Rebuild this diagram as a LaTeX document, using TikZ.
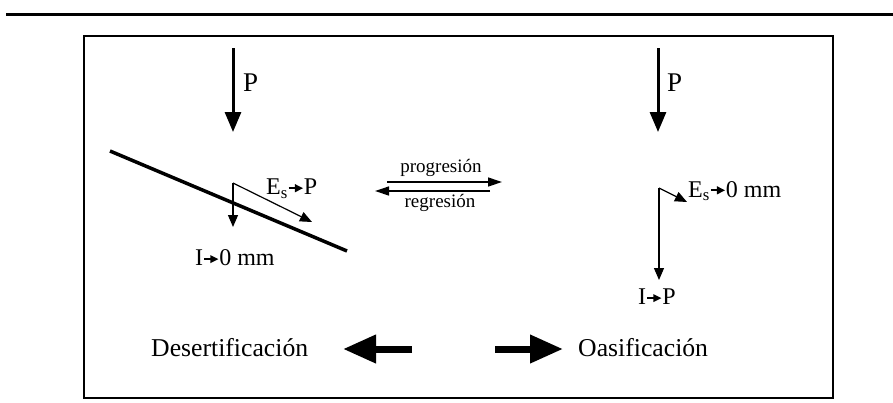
\documentclass[tikz,border=0pt]{standalone}
\usepackage{fontspec}
\setmainfont{Liberation Serif}
\usetikzlibrary{arrows.meta}
\newcommand{\tarr}{\tikz[baseline=-0.28em]\draw[line width=0.07em,-{Triangle[length=0.34em,width=0.32em]}] (0pt,0pt) -- (0.6em,0pt);}
\begin{document}
\begin{tikzpicture}[x=1pt,y=-1pt,
  bigp/.style={inner sep=0pt,anchor=west,font=\fontsize{27}{30}\selectfont},
  lab/.style={inner sep=0pt,anchor=west,font=\fontsize{24}{27}\selectfont},
  midlab/.style={inner sep=0pt,anchor=center,font=\fontsize{19}{22}\selectfont},
  biglab/.style={inner sep=0pt,anchor=west,font=\fontsize{25.7}{28}\selectfont},
  parr/.style={line width=3pt,-{Triangle[length=20pt,width=16pt]}},
  sarr/.style={line width=1.2pt,-{Triangle[length=12pt,width=10pt]}},
  marr/.style={line width=1.3pt,-{Triangle[length=14pt,width=9pt]}},
  barr/.style={line width=7pt,-{Triangle[length=33pt,width=27pt]}}]
\useasboundingbox (0,0) rectangle (893,402);
\draw[line width=3pt] (6,14) -- (893,14);
\draw[line width=1.5pt] (84,36) rectangle (833,398);

% left
\coordinate (a1s) at (233,48);
\coordinate (a1e) at (233,132);
\draw[parr] (a1s) -- (a1e);
\node[bigp] (p1) at (243,83) {P};
\coordinate (s1) at (110,151);
\coordinate (s2) at (347,251);
\draw[line width=3.5pt] (s1) -- (s2);
\coordinate (k1) at (233,183);
\coordinate (k2) at (233,227);
\coordinate (k3) at (312,222);
\draw[sarr] (k1) -- (k3);
\draw[sarr] (k1) -- (k2);
\node[lab] (es1) at (266,189) {E\textsubscript{s}\tarr P};
\node[lab] (i1) at (195,258) {I\tarr 0 mm};

% middle
\node[midlab] (prog) at (441,168) {progresión};
\node[midlab] (regr) at (440,203) {regresión};
\coordinate (m1) at (387,182);
\coordinate (m2) at (502,182);
\coordinate (m3) at (490,191);
\coordinate (m4) at (375,191);
\draw[marr] (m1) -- (m2);
\draw[marr] (m3) -- (m4);

% right
\coordinate (a2s) at (658,48);
\coordinate (a2e) at (658,132);
\draw[parr] (a2s) -- (a2e);
\node[bigp] (p2) at (667,83) {P};
\coordinate (r1) at (659,188);
\coordinate (r2) at (659,280);
\coordinate (r3) at (687,202);
\draw[sarr] (r1) -- (r2);
\draw[sarr] (r1) -- (r3);
\node[lab] (es2) at (688,191) {E\textsubscript{s}\tarr 0 mm};
\node[lab] (i2) at (638,297) {I\tarr P};

% bottom
\node[biglab] (des) at (151,348) {Desertificación};
\coordinate (b1) at (412,349);
\coordinate (b2) at (343,349);
\draw[barr] (b1) -- (b2);
\coordinate (b3) at (495,349);
\coordinate (b4) at (563,349);
\draw[barr] (b3) -- (b4);
\node[biglab] (oas) at (578,348) {Oasificación};
\end{tikzpicture}
\end{document}
